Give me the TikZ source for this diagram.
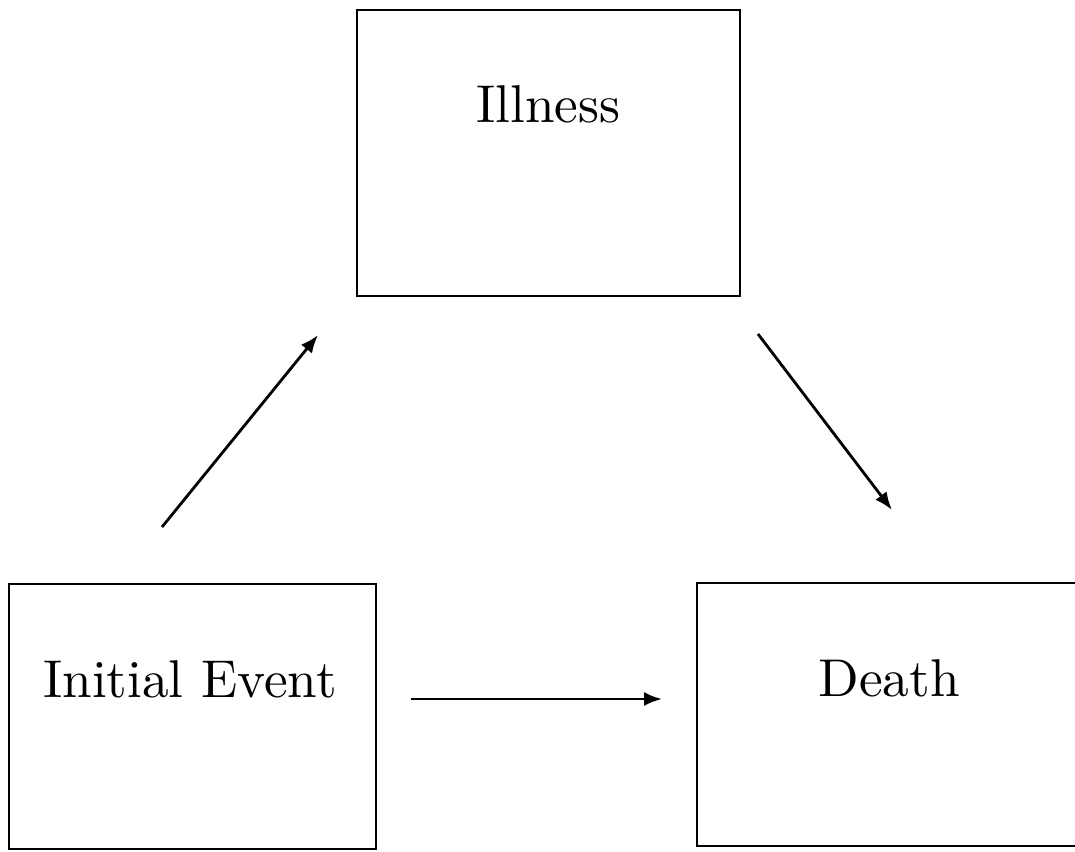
\documentclass[tikz,border=0pt]{standalone}
\usepackage{fontspec}
\newfontfamily\lmten{lmroman10-regular.otf}
\usetikzlibrary{arrows.meta}
\begin{document}
\begin{tikzpicture}[x=0.5pt,y=-0.5pt,
  box/.style={draw, line width=1.1pt, inner sep=0pt},
  lbl/.style={anchor=base, inner sep=0pt, font=\lmten\fontsize{26.6}{30}\selectfont},
  conn/.style={line width=1.4pt, -{Latex[length=9pt,width=7pt]}}]
\useasboundingbox (0,0) rectangle (1075,851);
% boxes
\node[box, minimum width=191.5pt, minimum height=143pt] (ill) at (548.5,153) {};
\node[box, minimum width=183.5pt, minimum height=132.5pt] (ini) at (192.5,716.5) {};
\node[box, minimum width=192pt, minimum height=131.5pt] (dea) at (889,714.5) {};
% labels
\node[lbl] (illt) at (548.5,122) {Illness};
\node[lbl] (init) at (190,697) {Initial Event};
\node[lbl] (deat) at (889,696) {Death};
% arrow ends
\coordinate (a1s) at (162,527);
\coordinate (a1e) at (318,335);
\coordinate (a2s) at (758,334);
\coordinate (a2e) at (892,510);
\coordinate (a3s) at (411,699);
\coordinate (a3e) at (662,699);
\draw[conn] (a1s) -- (a1e);
\draw[conn] (a2s) -- (a2e);
\draw[conn] (a3s) -- (a3e);
\end{tikzpicture}
\end{document}
